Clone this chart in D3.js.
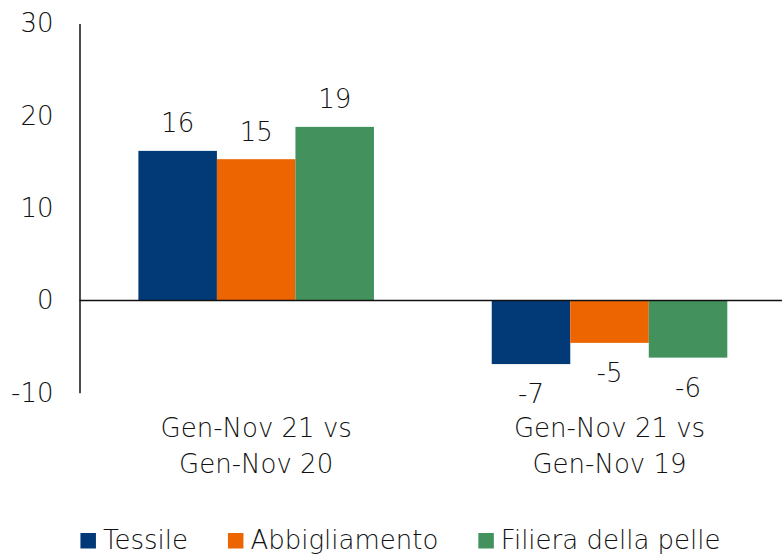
<!DOCTYPE html>
<html>
<head>
<meta charset="utf-8">
<script src="https://cdnjs.cloudflare.com/ajax/libs/d3/7.8.5/d3.min.js"></script>
<style>
    body { margin: 0; background: #fff; }
    svg text { font-family: "DejaVu Sans", sans-serif; font-weight: 200; fill: #111; }
</style>
</head>
<body>
<svg id="chart"></svg>
<script>
// data
var categories = [["Gen-Nov 21 vs", "Gen-Nov 20"], ["Gen-Nov 21 vs", "Gen-Nov 19"]];
var seriesNames = ["Tessile", "Abbigliamento", "Filiera della pelle"];
var tessile = [16.2, -6.9];
var abbigliamento = [15.3, -4.6];
var filiera = [18.8, -6.2];
var yTicks = [-10, 0, 10, 20, 30];
var colors = ["#023a78", "#ec6500", "#43925e"];

var width = 782, height = 554;
var fontSize = 26;
var seriesValues = [tessile, abbigliamento, filiera];

var svg = d3.select("svg#chart").attr("width", width).attr("height", height);

var y = d3.scaleLinear().domain([-10, 30]).range([392.7, 23.5]);
var x0 = d3.scaleBand().domain(d3.range(categories.length)).range([79.5, 786.2])
    .paddingInner(1 / 3).paddingOuter(1 / 6);
var x1 = d3.scaleBand().domain(d3.range(seriesNames.length)).range([0, x0.bandwidth()]);

// rows: one per category, one cell per series
var rows = categories.map(function (c, i) {
    return seriesValues.map(function (s, j) {
        return { cat: i, ser: j, value: s[i] };
    });
});

var groups = svg.selectAll("g.group").data(rows).enter().append("g")
    .attr("class", "group")
    .attr("transform", function (d, i) { return "translate(" + x0(i) + ",0)"; });

groups.selectAll("rect").data(function (d) { return d; }).enter().append("rect")
    .attr("x", function (d) { return x1(d.ser); })
    .attr("width", x1.bandwidth())
    .attr("y", function (d) { return y(Math.max(0, d.value)); })
    .attr("height", function (d) { return Math.abs(y(d.value) - y(0)); })
    .attr("fill", function (d) { return colors[d.ser]; });

groups.selectAll("text.value").data(function (d) { return d; }).enter().append("text")
    .attr("class", "value")
    .attr("x", function (d) { return x1(d.ser) + x1.bandwidth() / 2; })
    .attr("y", function (d) { return d.value >= 0 ? y(d.value) - 18.5 : y(d.value) + 39; })
    .attr("text-anchor", "middle")
    .style("font-size", fontSize + "px")
    .text(function (d) { return String(Math.round(d.value)); });

// y axis
var yAxis = d3.axisLeft(y).tickValues(yTicks).tickSize(0).tickPadding(26)
    .tickFormat(function (d) { return String(d); });
var yg = svg.append("g").attr("transform", "translate(79.5,0)").call(yAxis);
yg.select(".domain").attr("stroke", "#111").attr("stroke-width", 1.5);
yg.selectAll("text").style("font-size", fontSize + "px").attr("fill", "#111")
    .style("font-family", "'DejaVu Sans', sans-serif");

// zero line
svg.append("line")
    .attr("x1", 79.5).attr("x2", width)
    .attr("y1", y(0)).attr("y2", y(0))
    .attr("stroke", "#111").attr("stroke-width", 1.5);

// category labels (two lines)
categories.forEach(function (c, i) {
    var t = svg.append("text")
        .attr("text-anchor", "middle")
        .style("font-size", fontSize + "px");
    c.forEach(function (line, k) {
        t.append("tspan")
            .attr("x", x0(i) + x0.bandwidth() / 2)
            .attr("y", 436.5 + k * 36.7)
            .text(line);
    });
});

// legend, laid out from measured text widths and centred
var sq = 15.5, sqGap = 7, itemGap = 40;
var legend = svg.append("g");
var items = legend.selectAll("g").data(seriesNames).enter().append("g");
items.append("rect")
    .attr("y", 533).attr("width", sq).attr("height", sq)
    .attr("fill", function (d, i) { return colors[i]; });
items.append("text")
    .attr("x", sq + sqGap).attr("y", 549)
    .style("font-size", "26px")
    .text(function (d) { return d; });
var offset = 0;
items.each(function () {
    var w = d3.select(this).select("text").node().getComputedTextLength();
    d3.select(this).attr("data-off", offset);
    offset += sq + sqGap + w + itemGap;
});
var total = offset - itemGap;
var start = 400.5 - total / 2;
items.attr("transform", function () {
    return "translate(" + (start + +d3.select(this).attr("data-off")) + ",0)";
});
</script>
</body>
</html>
